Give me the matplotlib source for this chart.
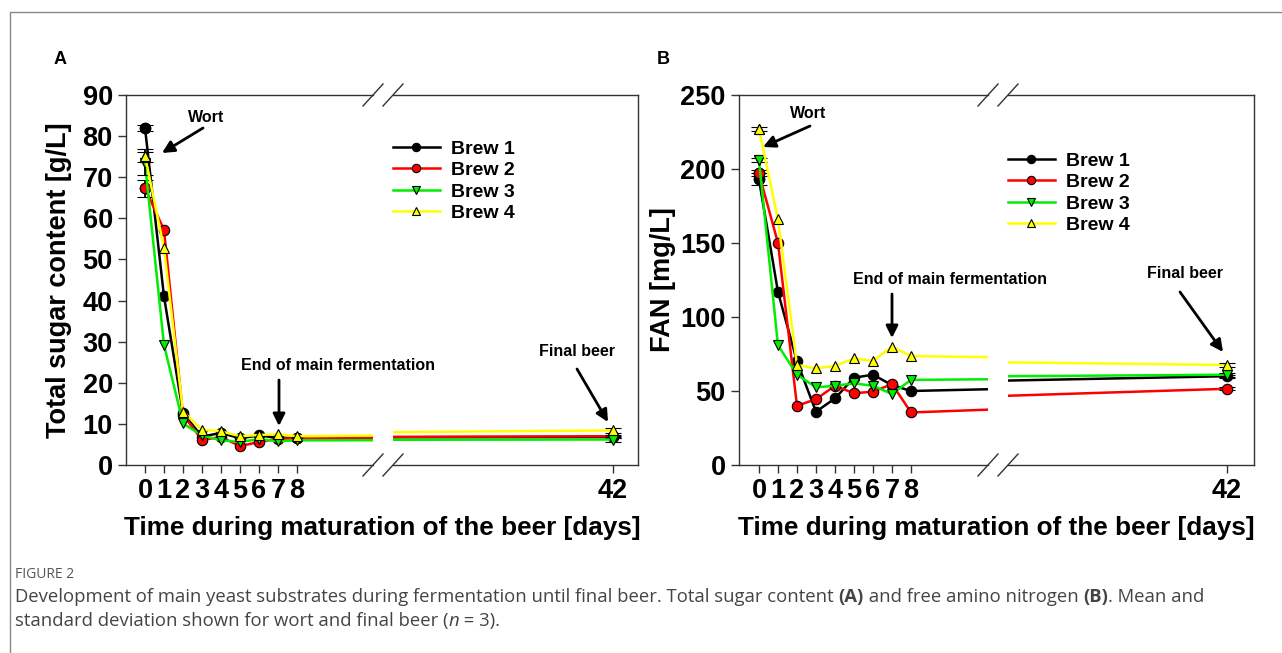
import matplotlib.pyplot as plt
from matplotlib.lines import Line2D

# Data
days = [0, 1, 2, 3, 4, 5, 6, 7, 8, 42]
brews = ['Brew 1', 'Brew 2', 'Brew 3', 'Brew 4']

sugar_brew1 = [82.0, 41.0, 12.6, 6.9, 7.8, 6.5, 7.2, 6.6, 6.6, 6.8]
sugar_brew2 = [67.3, 57.2, 12.2, 6.1, 6.8, 4.6, 5.6, 6.4, 6.5, 7.0]
sugar_brew3 = [73.4, 29.2, 10.1, 7.2, 6.0, 5.6, 6.3, 5.8, 6.0, 6.2]
sugar_brew4 = [75.2, 52.7, 13.0, 8.6, 8.2, 7.0, 7.3, 7.5, 7.0, 8.4]
sugar_sd_wort = [0.7, 2.0, 2.8, 1.6]
sugar_sd_final = [0.3, 0.4, 0.5, 0.6]

fan_brew1 = [193, 117, 70, 36, 45, 59, 61, 54, 50, 60]
fan_brew2 = [197, 150, 40, 44.5, 53.5, 48.5, 49.5, 54.7, 35.5, 51.5]
fan_brew3 = [206, 81, 61, 52.5, 53.5, 55.2, 53.5, 48, 57.5, 61]
fan_brew4 = [227, 166, 67.6, 65.3, 67, 72, 70.3, 80, 73.6, 67.6]
fan_sd_wort = [4, 2, 1.5, 1.2]
fan_sd_final = [1, 1, 1.5, 1.5]

colors = ['#000000', '#ff0000', '#00ee00', '#ffff00']
markers = ['o', 'o', 'v', '^']

W, H = 1282, 653
plt.rcParams['font.family'] = ['Liberation Sans', 'DejaVu Sans']
plt.rcParams['font.weight'] = 'bold'
fig = plt.figure(figsize=(W / 100, H / 100), dpi=100)


def fx(x):
    return x / W


def fy(y):
    return 1 - y / H


def fpx(x, y):
    return (x, H - y)


def draw_panel(series, sd_wort, sd_final, px, left_lim, right_lim, ymax, ystep,
               ylabel, ylabel_x):
    l0, l1, r0, r1 = px
    top, bot = 95, 465
    axl = fig.add_axes([fx(l0), fy(bot), fx(l1 - l0), fy(top) - fy(bot)])
    axr = fig.add_axes([fx(r0), fy(bot), fx(r1 - r0), fy(top) - fy(bot)])
    for ax in (axl, axr):
        for i, vals in enumerate(series):
            ax.plot(days, vals, color=colors[i], lw=1.8, zorder=3 + i)
            ax.plot(days[:-1], vals[:-1], ls='none',
                    marker=markers[i], ms=7.5, mfc=colors[i], mec='k', mew=0.8,
                    zorder=3 + i)
            ax.errorbar([days[0], days[-1]], [vals[0], vals[-1]],
                        yerr=[sd_wort[i], sd_final[i]], fmt=markers[i], ms=7.5,
                        mfc=colors[i], mec='k', mew=0.8, ecolor='k',
                        elinewidth=1.3, capsize=6, capthick=1.3, zorder=3 + i)
        ax.set_ylim(0, ymax)
        for s in ax.spines.values():
            s.set_color('#333333')
            s.set_linewidth(1.0)
        ax.tick_params(axis='both', direction='out', length=6, width=1,
                       labelsize=19.5, color='#333333')
    axl.set_xlim(*left_lim)
    axr.set_xlim(*right_lim)
    axl.set_xticks(days[:-1])
    axr.set_xticks([42])
    axl.set_yticks(range(0, ymax + 1, ystep))
    axr.set_yticks([])
    axl.spines['right'].set_visible(False)
    axr.spines['left'].set_visible(False)
    axl.set_ylabel(ylabel, fontsize=19.5, fontweight='bold')
    axl.yaxis.set_label_coords((ylabel_x - l0) / (l1 - l0), 0.5)
    for lab in axl.get_xticklabels() + axl.get_yticklabels() + axr.get_xticklabels():
        lab.set_fontweight('bold')
    axl.tick_params(axis='x', pad=3)
    axr.tick_params(axis='x', pad=3)
    # break marks
    for xb in (l1, r0):
        for yb in (top, bot):
            fig.add_artist(Line2D([fx(xb - 10), fx(xb + 10)], [fy(yb + 11), fy(yb - 11)],
                                  color='#333333', lw=1.0))
    return axl, axr


axA = draw_panel([sugar_brew1, sugar_brew2, sugar_brew3, sugar_brew4],
                 sugar_sd_wort, sugar_sd_final, (126, 373, 393, 638),
                 (-1.0, 12.0), (32, 43.14), 90, 10,
                 'Total sugar content [g/L]', 72)
axB = draw_panel([fan_brew1, fan_brew2, fan_brew3, fan_brew4],
                 fan_sd_wort, fan_sd_final, (739, 988, 1008, 1254),
                 (-1.05, 12.05), (32, 43.23), 250, 50,
                 'FAN [mg/L]', 676)

fig.text(fx(382), fy(528), 'Time during maturation of the beer [days]',
         fontsize=18.8, fontweight='bold', ha='center', va='center')
fig.text(fx(996), fy(528), 'Time during maturation of the beer [days]',
         fontsize=18.8, fontweight='bold', ha='center', va='center')
fig.text(fx(60), fy(60), 'A', fontsize=13, fontweight='bold', ha='center', va='center')
fig.text(fx(663), fy(60), 'B', fontsize=13, fontweight='bold', ha='center', va='center')

# legends
handles = [Line2D([], [], color=colors[i], lw=1.8, marker=markers[i], ms=7.5,
                  mfc=colors[i], mec='k', mew=0.8) for i in range(4)]
for x0, y0 in ((393, 140), (1008, 152)):
    fig.legend(handles, brews, loc='upper left', bbox_to_anchor=(fx(x0), fy(y0)),
               frameon=False, borderpad=0, borderaxespad=0, handlelength=2.4,
               handletextpad=0.6, labelspacing=0.2, markerscale=0.8,
               prop={'size': 14, 'weight': 'bold'})

# annotations
arrow = dict(arrowstyle='-|>', lw=2, color='k', mutation_scale=18, shrinkA=0, shrinkB=0)
notes = [
    ('Wort', (206, 118), (203, 128), (162, 153)),
    ('End of main fermentation', (338, 366), (279, 380), (279, 426)),
    ('Final beer', (577, 351), (577, 369), (608, 422)),
    ('Wort', (808, 113), (810, 126), (763, 147)),
    ('End of main fermentation', (950, 280), (892, 294), (892, 338)),
    ('Final beer', (1185, 274), (1180, 292), (1223, 352)),
]
for txt, tpos, a0, a1 in notes:
    fig.text(fx(tpos[0]), fy(tpos[1]), txt, fontsize=11.5, fontweight='bold',
             ha='center', va='center')
    fig.add_artist(plt.Annotation('', xy=fpx(*a1), xytext=fpx(*a0),
                                  xycoords='figure pixels', textcoords='figure pixels',
                                  arrowprops=arrow))

# frame and caption
fig.add_artist(Line2D([fx(10), fx(10), 1.0], [0.0, fy(12), fy(12)], color='#888888', lw=1))
cap_font = ['Open Sans', 'DejaVu Sans']
cap_size = 13.3
fig.text(fx(15), fy(574), 'FIGURE 2', fontsize=10, color='#555555',
         family=cap_font, fontweight='normal', va='center')


def line(x, y, parts):
    prev = fig.text(fx(x), fy(y), parts[0][0], fontsize=cap_size, color='#444444',
                    family=cap_font, fontweight=parts[0][1], style=parts[0][2],
                    va='center')
    for txt, wt, st in parts[1:]:
        prev = fig.add_artist(plt.Annotation(txt, xy=(1, 0), xycoords=prev,
                                             va='bottom', ha='left', fontsize=cap_size,
                                             color='#444444', family=cap_font,
                                             fontweight=wt, style=st))


line(15, 597, [('Development of main yeast substrates during fermentation until final beer. '
                'Total sugar content ', 'normal', 'normal'),
               ('(A)', 'bold', 'normal'),
               (' and free amino nitrogen ', 'normal', 'normal'),
               ('(B)', 'bold', 'normal'),
               ('. Mean and', 'normal', 'normal')])
line(15, 621, [('standard deviation shown for wort and final beer (', 'normal', 'normal'),
               ('n', 'normal', 'italic'),
               (' = 3).', 'normal', 'normal')])

fig.savefig('out.png', dpi=100)
